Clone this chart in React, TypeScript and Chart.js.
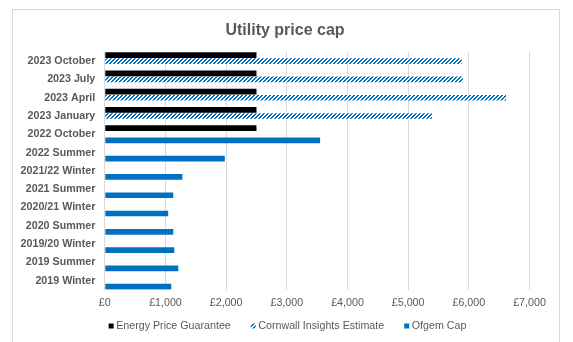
import React, { useEffect, useRef } from "react";
import { Chart, registerables } from "chart.js";

Chart.register(...registerables);

const categories = [
  "2023 October",
  "2023 July",
  "2023 April",
  "2023 January",
  "2022 October",
  "2022 Summer",
  "2021/22 Winter",
  "2021 Summer",
  "2020/21 Winter",
  "2020 Summer",
  "2019/20 Winter",
  "2019 Summer",
  "2019 Winter",
];

const energyPriceGuarantee = [2500, 2500, 2500, 2500, 2500, null, null, null, null, null, null, null, null];
const cornwallEstimate = [5883, 5899, 6613, 5392, null, null, null, null, null, null, null, null, null];
const ofgemCap = [null, null, null, null, 3549, 1978, 1278, 1128, 1045, 1128, 1145, 1212, 1095];

const seriesNames = ["Energy Price Guarantee", "Cornwall Insights Estimate", "Ofgem Cap"];
const chartTitle = "Utility price cap";
const xTickMax = 7000;
const xTickStep = 1000;

const BLUE = "#0070C0";
const TEXT = "#595959";
const FONT = "'Liberation Sans', Arial, sans-serif";

function makeHatch(): CanvasPattern | string {
  const c = document.createElement("canvas");
  c.width = 4;
  c.height = 4;
  const ctx = c.getContext("2d");
  if (!ctx) return BLUE;
  ctx.fillStyle = "#ffffff";
  ctx.fillRect(0, 0, 4, 4);
  ctx.fillStyle = BLUE;
  for (let x = 0; x < 4; x++) {
    for (let y = 0; y < 4; y++) {
      if ((x + y) % 4 < 2) ctx.fillRect(x, y, 1, 1);
    }
  }
  const p = ctx.createPattern(c, "repeat");
  return p || BLUE;
}

export default function App() {
  const ref = useRef<HTMLCanvasElement | null>(null);

  useEffect(() => {
    if (!ref.current) return;
    const hatch = makeHatch();
    const fills: any[] = ["#000000", hatch, BLUE];

    const decorPlugin = {
      id: "decor",
      afterDraw(chart: any) {
        const ctx = chart.ctx as CanvasRenderingContext2D;
        ctx.save();
        // title
        ctx.font = `bold 16px ${FONT}`;
        ctx.fillStyle = TEXT;
        ctx.textAlign = "center";
        ctx.textBaseline = "middle";
        ctx.fillText(chartTitle, 285, 31);
        // legend
        ctx.textAlign = "left";
        ctx.font = `10.7px ${FONT}`;
        const box = 5;
        const gapText = 2.5;
        const gapItem = 20;
        const widths = seriesNames.map((n) => box + gapText + ctx.measureText(n).width);
        const total = widths.reduce((a, b) => a + b, 0) + gapItem * (widths.length - 1);
        let x = 287.5 - total / 2;
        const cy = 326;
        seriesNames.forEach((n, i) => {
          ctx.fillStyle = fills[i];
          ctx.fillRect(x, cy - box / 2, box, box);
          ctx.fillStyle = TEXT;
          ctx.fillText(n, x + box + gapText, cy + 0.5);
          x += widths[i] + gapItem;
        });
        ctx.restore();
      },
    };

    const chart = new Chart(ref.current, {
      type: "bar",
      data: {
        labels: categories,
        datasets: [
          { label: seriesNames[0], data: energyPriceGuarantee, backgroundColor: "#000000", borderWidth: 0 },
          { label: seriesNames[1], data: cornwallEstimate, backgroundColor: hatch as any, borderWidth: 0 },
          { label: seriesNames[2], data: ofgemCap, backgroundColor: BLUE, borderWidth: 0 },
        ],
      },
      options: {
        indexAxis: "y",
        animation: false,
        responsive: false,
        maintainAspectRatio: false,
        layout: { padding: { left: 0, right: 43.5, top: 52, bottom: 32.3 } },
        datasets: { bar: { categoryPercentage: 1, barPercentage: 0.93 } },
        plugins: {
          legend: { display: false },
          tooltip: { enabled: false },
          title: { display: false },
        },
        scales: {
          x: {
            min: 0,
            max: xTickMax,
            ticks: {
              stepSize: xTickStep,
              color: TEXT,
              padding: 7,
              font: { family: FONT, size: 10.7 },
              callback: (v: any) => "£" + Number(v).toLocaleString("en-GB"),
            },
            grid: { color: "#d9d9d9", drawTicks: false, lineWidth: 1 },
            border: { display: false },
            afterFit: (s: any) => {
              s.height = 20;
            },
          },
          y: {
            ticks: {
              color: TEXT,
              padding: 9.5,
              font: { family: FONT, size: 10.7, weight: "bold" },
              autoSkip: false,
            },
            grid: { display: false, drawTicks: false },
            border: { display: false },
            afterFit: (s: any) => {
              s.width = 104.8;
            },
          },
        },
      },
      plugins: [decorPlugin],
    } as any);

    return () => chart.destroy();
  }, []);

  return (
    <div style={{ position: "fixed", left: 0, top: 0, width: 573, height: 342, background: "#fff", overflow: "hidden" }}>
      <div
        style={{
          position: "absolute",
          left: 12,
          top: 9,
          width: 548,
          height: 345,
          border: "1px solid #d9d9d9",
          boxSizing: "border-box",
        }}
      />
      <canvas ref={ref} width={573} height={342} style={{ position: "absolute", left: 0, top: 0, width: 573, height: 342 }} />
    </div>
  );
}
